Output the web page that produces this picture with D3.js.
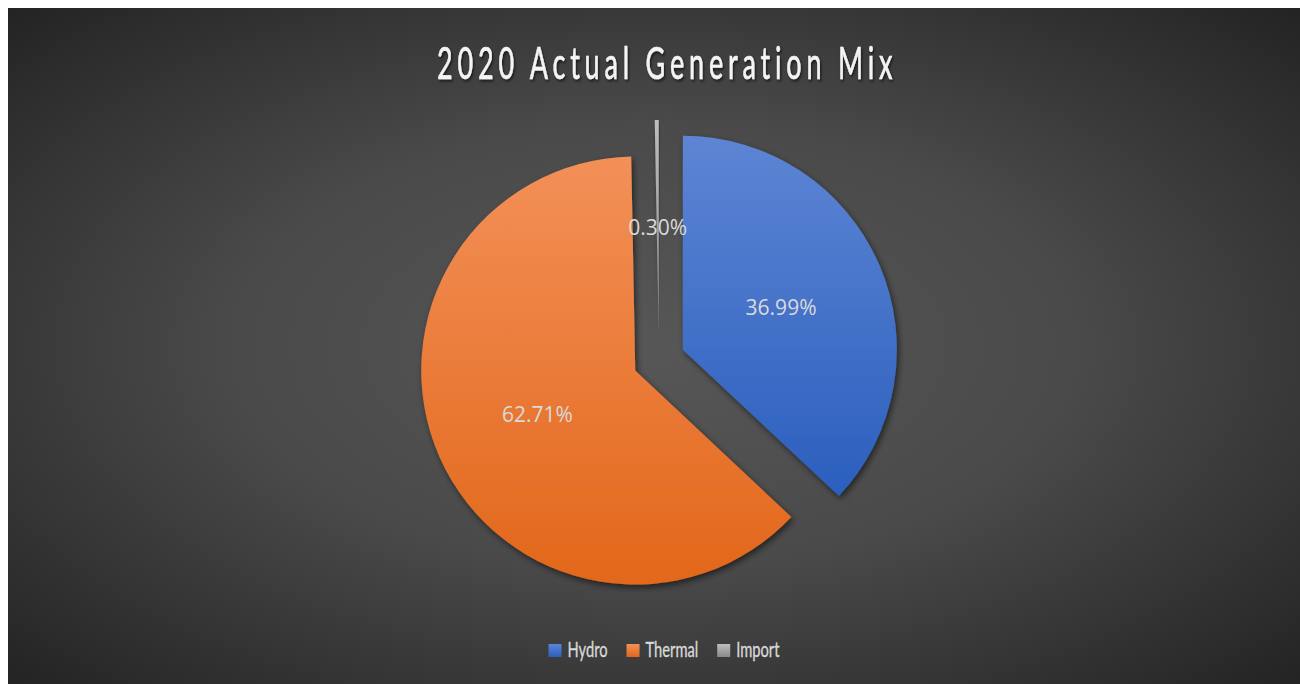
<!DOCTYPE html>
<html>
<head>
<meta charset="utf-8">
<script src="https://cdn.jsdelivr.net/npm/d3@7"></script>
<style>
  html, body { margin: 0; padding: 0; background: #ffffff; }
  svg { display: block; }
</style>
</head>
<body>
<svg id="chart" width="1300" height="684"></svg>
<script>
// Generation mix, 2020 (share of actual generation, %)
const categories = ["Hydro", "Thermal", "Import"];
const shares = [36.99, 62.71, 0.30];
const titleText = "2020 Actual Generation Mix";

const sliceColors = {
  Hydro:   { top: "#5d85d4", bottom: "#2b5fbe" },
  Thermal: { top: "#f39058", bottom: "#e2671a" },
  Import:  { top: "#bdbdbd", bottom: "#8a8a8a" }
};

const W = 1300, H = 684;
const svg = d3.select("#chart");
const defs = svg.append("defs");

// dark radial backdrop
const bg = defs.append("radialGradient").attr("id", "bgGrad")
  .attr("cx", "0.5").attr("cy", "0.5").attr("r", "0.72");
bg.append("stop").attr("offset", "0").attr("stop-color", "#575757");
bg.append("stop").attr("offset", "0.45").attr("stop-color", "#4a4a4a");
bg.append("stop").attr("offset", "1").attr("stop-color", "#222222");

categories.forEach(c => {
  const g = defs.append("linearGradient").attr("id", "grad-" + c)
    .attr("x1", 0).attr("y1", 0).attr("x2", 0).attr("y2", 1);
  g.append("stop").attr("offset", "0").attr("stop-color", sliceColors[c].top);
  g.append("stop").attr("offset", "1").attr("stop-color", sliceColors[c].bottom);
});

const shadow = defs.append("filter").attr("id", "sliceShadow")
  .attr("x", "-20%").attr("y", "-20%").attr("width", "140%").attr("height", "140%");
shadow.append("feDropShadow").attr("dx", 2).attr("dy", 3).attr("stdDeviation", 3)
  .attr("flood-color", "#000").attr("flood-opacity", 0.55);

const tshadow = defs.append("filter").attr("id", "titleShadow")
  .attr("x", "-10%").attr("y", "-30%").attr("width", "120%").attr("height", "160%");
tshadow.append("feDropShadow").attr("dx", 2).attr("dy", 2).attr("stdDeviation", 1.5)
  .attr("flood-color", "#000").attr("flood-opacity", 0.6);

svg.append("rect")
  .attr("x", 8).attr("y", 8).attr("width", W - 8).attr("height", H - 8)
  .attr("fill", "url(#bgGrad)");

// condensed humanist face, emulated with a horizontal squeeze
const faceFont = "Lato, 'Open Sans', sans-serif";

// title, spread out with letter spacing
const titleX = 665, titleWidth = 456, titleSqueeze = 0.6;
const titleG = svg.append("g");
const title = titleG.append("text")
  .attr("x", 0).attr("y", 0)
  .attr("font-family", faceFont)
  .attr("font-size", 45)
  .attr("fill", "#f4f4f4")
  .attr("stroke", "#f4f4f4")
  .attr("stroke-width", 0.6)
  .attr("filter", "url(#titleShadow)")
  .text(titleText);
const natural = title.node().getComputedTextLength();
const spacing = (titleWidth / titleSqueeze - natural) / (titleText.length - 1);
title.attr("letter-spacing", spacing);
titleG.attr("transform",
  `translate(${titleX - titleWidth / 2},79) scale(${titleSqueeze},1)`);

// exploded pie
const cx = 659, cy = 360, R = 214, explode = 26;
const pie = d3.pie().sort(null).value(d => d.value);
const data = categories.map((c, i) => ({ name: c, value: shares[i] }));
const arcs = pie(data);
const arc = d3.arc().innerRadius(0).outerRadius(R);

const slices = svg.append("g").attr("transform", `translate(${cx},${cy})`);
const sliceG = slices.selectAll("g.slice").data(arcs).join("g")
  .attr("class", "slice")
  .attr("transform", d => {
    const a = (d.startAngle + d.endAngle) / 2;
    return `translate(${explode * Math.sin(a)},${-explode * Math.cos(a)})`;
  });

sliceG.append("path")
  .attr("d", arc)
  .attr("fill", d => `url(#grad-${d.data.name})`)
  .attr("filter", "url(#sliceShadow)");

const fmt = v => d3.format(".2f")(v) + "%";
sliceG.append("text")
  .attr("transform", d => `translate(${arc.centroid(d)})`)
  .attr("text-anchor", "middle")
  .attr("dy", "0.36em")
  .attr("font-family", "'Open Sans', 'Noto Sans', sans-serif")
  .attr("font-size", 21)
  .attr("fill", "#dadada")
  .text(d => fmt(d.data.value));

// legend
const legend = svg.append("g");
const sw = 13, gapText = 6, gapItem = 19, legendY = 657, legendSqueeze = 0.7;
const items = legend.selectAll("g").data(categories).join("g");
items.append("rect")
  .attr("width", sw).attr("height", sw)
  .attr("y", legendY - sw)
  .attr("fill", c => `url(#grad-${c})`);
items.append("text")
  .attr("transform", `translate(${sw + gapText},${legendY}) scale(${legendSqueeze},1)`)
  .attr("font-family", faceFont)
  .attr("font-size", 21)
  .attr("fill", "#d9d9d9")
  .attr("stroke", "#d9d9d9")
  .attr("stroke-width", 0.35)
  .text(c => c);
const widths = [];
items.each(function () {
  widths.push(d3.select(this).select("text").node().getComputedTextLength() * legendSqueeze);
});
const total = widths.reduce((s, w) => s + sw + gapText + w, 0) + gapItem * (widths.length - 1);
let x0 = 664 - total / 2;
items.each(function (c, i) {
  d3.select(this).attr("transform", `translate(${x0},0)`);
  x0 += sw + gapText + widths[i] + gapItem;
});
</script>
</body>
</html>
